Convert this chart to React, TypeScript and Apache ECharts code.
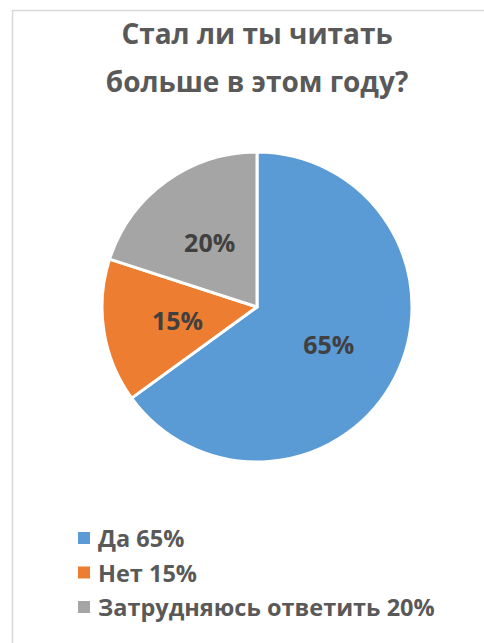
import React, { useEffect, useRef } from "react";
import * as echarts from "echarts";

const titleLines = ["Стал ли ты читать", "больше в этом году?"];
const categories = ["Да", "Нет", "Затрудняюсь ответить"];
const values = [65, 15, 20];
const colors = ["#5B9BD5", "#ED7D31", "#A5A5A5"];

export default function App() {
  const ref = useRef<HTMLDivElement>(null);
  useEffect(() => {
    if (!ref.current) return;
    const chart = echarts.init(ref.current, null, { renderer: "svg" });
    const font = "'Open Sans', 'Noto Sans', sans-serif";
    chart.setOption({
      animation: false,
      backgroundColor: "#ffffff",
      title: {
        text: titleLines.join("\n"),
        left: 257,
        top: 9,
        padding: 0,
        textAlign: "center",
        textStyle: {
          fontFamily: font,
          fontSize: 28,
          fontWeight: "bold",
          color: "#595959",
          lineHeight: 48,
        },
      },
      graphic: [
        {
          type: "rect",
          shape: { x: 12.5, y: 10.5, width: 600, height: 800 },
          style: { fill: "none", stroke: "#d9d9d9", lineWidth: 1.5 },
          silent: true,
        },
      ],
      legend: {
        orient: "vertical",
        left: 76,
        top: 525,
        padding: 0,
        itemWidth: 14,
        itemHeight: 14,
        itemGap: 8.5,
        icon: "rect",
        formatter: (name: string) => {
          const i = categories.indexOf(name);
          return `${name} ${values[i]}%`;
        },
        textStyle: {
          fontFamily: font,
          fontSize: 23.5,
          fontWeight: "bold",
          color: "#595959",
          lineHeight: 26,
          padding: [0, 0, 0, 2],
        },
      },
      series: [
        {
          type: "pie",
          center: [257, 307],
          radius: [0, 155],
          startAngle: 90,
          clockwise: true,
          avoidLabelOverlap: false,
          itemStyle: { borderColor: "#ffffff", borderWidth: 3 },
          label: {
            show: true,
            position: "inside",
            formatter: "{c}%",
            fontFamily: font,
            fontSize: 25,
            fontWeight: "bold",
            color: "#404040",
          },
          labelLine: { show: false },
          emphasis: { disabled: true },
          data: categories.map((name, i) => ({
            name,
            value: values[i],
            itemStyle: { color: colors[i] },
          })),
        },
      ],
    });
    return () => chart.dispose();
  }, []);
  return (
    <div
      ref={ref}
      style={{ position: "fixed", left: 0, top: 0, width: 484, height: 643 }}
    />
  );
}
